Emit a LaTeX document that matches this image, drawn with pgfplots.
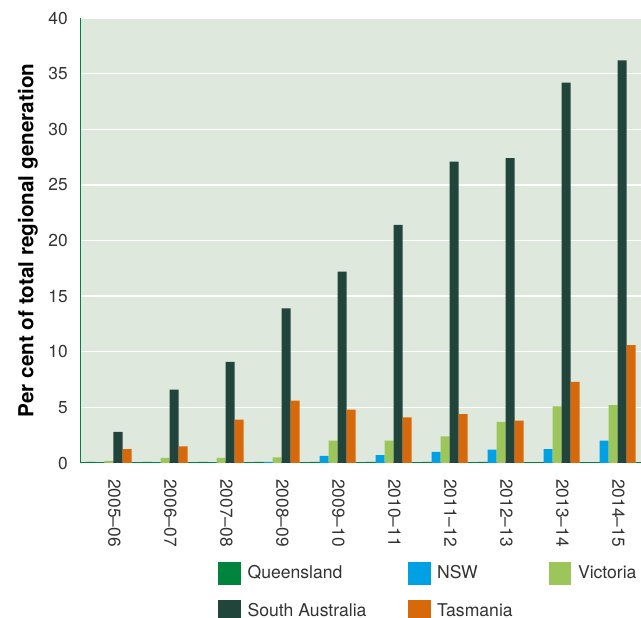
\documentclass[border=0pt]{standalone}
\usepackage{pgfplots}
\pgfplotsset{compat=1.18}
\usepackage{fontspec}
\setmainfont{TeX Gyre Heros}
\definecolor{qld}{HTML}{00843D}
\definecolor{nsw}{HTML}{00A0E4}
\definecolor{vic}{HTML}{9DC65A}
\definecolor{sa}{HTML}{22453B}
\definecolor{tas}{HTML}{D8690B}
\definecolor{bgc}{HTML}{DEE8DC}
\definecolor{txt}{HTML}{333333}
\begin{document}
\begin{tikzpicture}
\begin{axis}[
  name=ax, at={(0,0)}, anchor=south west,
  scale only axis, width=420pt, height=333.75pt,
  xmin=-0.5, xmax=9.5, ymin=0, ymax=40,
  ybar=0pt, bar width=6.75pt,
  axis background/.style={fill=bgc},
  ymajorgrids, grid style={white, line width=1pt},
  axis x line*=bottom, axis y line*=left,
  axis line style={draw=qld, line width=0.75pt, -},
  major tick length=0pt,
  xtick={0,...,9},
  xticklabels={2005–06,2006–07,2007–08,2008–09,2009–10,2010–11,2011–12,2012–13,2013–14,2014–15},
  ytick={0,5,...,40},
  /pgf/number format/assume math mode=true,
  tick label style={font=\fontsize{13}{15}\selectfont, text=txt},
  yticklabel style={anchor=east, inner sep=0pt, xshift=-9.75pt},
  xticklabel style={inner sep=0pt, xshift=4pt, yshift=-12pt, rotate=-90, anchor=west},
  ylabel={Per cent of total regional generation},
  ylabel style={font=\bfseries\fontsize{15.5}{18}\selectfont, text=black, at={([xshift=-39.75pt]rel axis cs:0,0.5)}, anchor=center},
  legend columns=3,
  legend image code/.code={\fill[#1] (0pt,-8.5pt) rectangle (17pt,8.5pt);},
  legend style={at={(rel axis cs:0,0)}, anchor=north west, xshift=102.75pt, yshift=-74pt,
    draw=none, fill=none, inner sep=0pt, font=\fontsize{13.2}{15}\selectfont, text=txt,
    row sep=11.25pt, cells={anchor=west},
    /tikz/every odd column/.append style={column sep=3pt},
    /tikz/column 2/.append style={column sep=29pt},
    /tikz/column 4/.append style={column sep=25pt}},
]
\addplot[fill=qld, draw=none] coordinates {(0,0.1) (1,0.1) (2,0.1) (3,0.1) (4,0.1) (5,0.1) (6,0.1) (7,0.1) (8,0.05) (9,0.05)};
\addplot[fill=nsw, draw=none] coordinates {(0,0) (1,0) (2,0) (3,0.1) (4,0.65) (5,0.7) (6,1.0) (7,1.2) (8,1.25) (9,2.0)};
\addplot[fill=vic, draw=none] coordinates {(0,0.2) (1,0.45) (2,0.45) (3,0.5) (4,2.0) (5,2.0) (6,2.4) (7,3.7) (8,5.1) (9,5.2)};
\addplot[fill=sa, draw=none] coordinates {(0,2.8) (1,6.6) (2,9.1) (3,13.9) (4,17.2) (5,21.4) (6,27.1) (7,27.4) (8,34.2) (9,36.2)};
\addplot[fill=tas, draw=none] coordinates {(0,1.25) (1,1.5) (2,3.9) (3,5.6) (4,4.8) (5,4.1) (6,4.4) (7,3.8) (8,7.3) (9,10.6)};
\legend{Queensland, NSW, Victoria, South Australia, Tasmania}
\end{axis}
\pgfresetboundingbox
\useasboundingbox ([xshift=-60.75pt,yshift=-116.25pt]ax.south west) rectangle ([yshift=13.5pt]ax.north east);
\end{tikzpicture}
\end{document}
